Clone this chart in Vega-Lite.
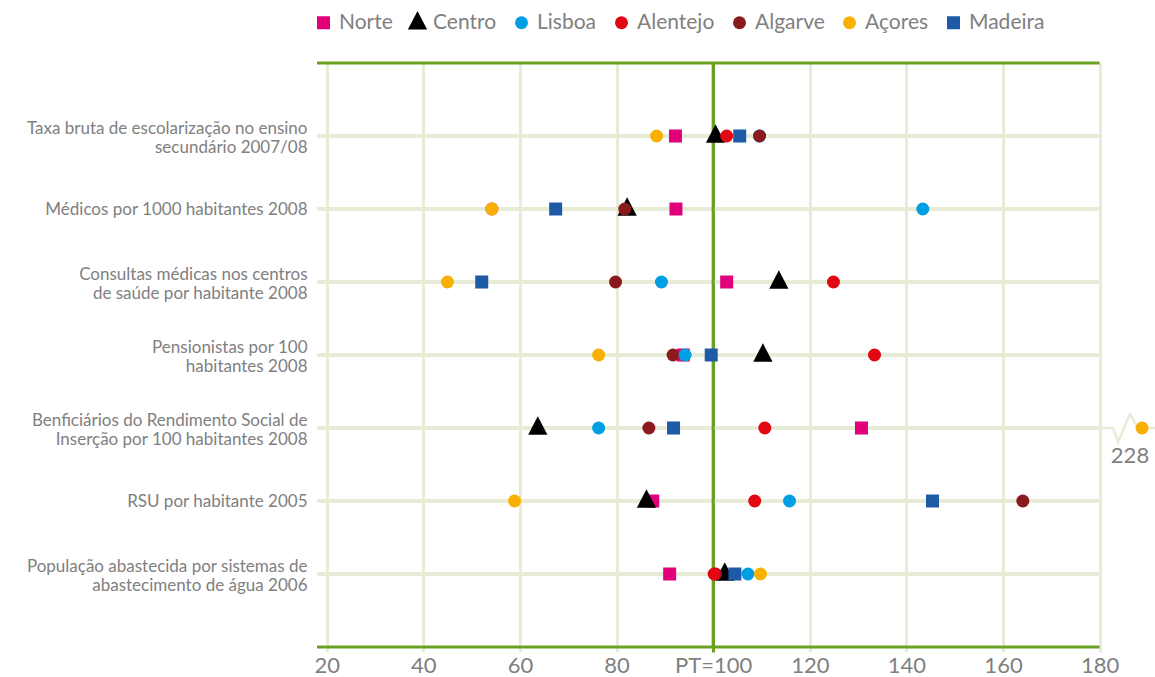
{
  "$schema": "https://vega.github.io/schema/vega-lite/v6.json",
  "width": 825,
  "height": 584,
  "autosize": {"type": "none"},
  "padding": {"left": 317, "top": 63, "right": 13, "bottom": 30},
  "background": "white",
  "config": {"view": {"stroke": null}, "font": "Lato"},
  "data": {"values": [
    {"indicador": "Taxa bruta de escolarização no ensino|secundário 2007/08", "regiao": "Norte", "valor": 92.2},
    {"indicador": "Taxa bruta de escolarização no ensino|secundário 2007/08", "regiao": "Centro", "valor": 100.5},
    {"indicador": "Taxa bruta de escolarização no ensino|secundário 2007/08", "regiao": "Lisboa", "valor": 109.6},
    {"indicador": "Taxa bruta de escolarização no ensino|secundário 2007/08", "regiao": "Alentejo", "valor": 102.8},
    {"indicador": "Taxa bruta de escolarização no ensino|secundário 2007/08", "regiao": "Algarve", "valor": 109.6},
    {"indicador": "Taxa bruta de escolarização no ensino|secundário 2007/08", "regiao": "Açores", "valor": 88.3},
    {"indicador": "Taxa bruta de escolarização no ensino|secundário 2007/08", "regiao": "Madeira", "valor": 105.5},
    {"indicador": "Médicos por 1000 habitantes 2008", "regiao": "Norte", "valor": 92.3},
    {"indicador": "Médicos por 1000 habitantes 2008", "regiao": "Centro", "valor": 82.2},
    {"indicador": "Médicos por 1000 habitantes 2008", "regiao": "Lisboa", "valor": 143.4},
    {"indicador": "Médicos por 1000 habitantes 2008", "regiao": "Alentejo", "valor": 54.2},
    {"indicador": "Médicos por 1000 habitantes 2008", "regiao": "Açores", "valor": 54.2},
    {"indicador": "Médicos por 1000 habitantes 2008", "regiao": "Algarve", "valor": 81.7},
    {"indicador": "Médicos por 1000 habitantes 2008", "regiao": "Madeira", "valor": 67.4},
    {"indicador": "Consultas médicas nos centros|de saúde por habitante 2008", "regiao": "Norte", "valor": 102.8},
    {"indicador": "Consultas médicas nos centros|de saúde por habitante 2008", "regiao": "Centro", "valor": 113.6},
    {"indicador": "Consultas médicas nos centros|de saúde por habitante 2008", "regiao": "Lisboa", "valor": 89.3},
    {"indicador": "Consultas médicas nos centros|de saúde por habitante 2008", "regiao": "Alentejo", "valor": 124.9},
    {"indicador": "Consultas médicas nos centros|de saúde por habitante 2008", "regiao": "Algarve", "valor": 79.8},
    {"indicador": "Consultas médicas nos centros|de saúde por habitante 2008", "regiao": "Açores", "valor": 45.0},
    {"indicador": "Consultas médicas nos centros|de saúde por habitante 2008", "regiao": "Madeira", "valor": 52.1},
    {"indicador": "Pensionistas por 100|habitantes 2008", "regiao": "Norte", "valor": 93.8},
    {"indicador": "Pensionistas por 100|habitantes 2008", "regiao": "Centro", "valor": 110.3},
    {"indicador": "Pensionistas por 100|habitantes 2008", "regiao": "Algarve", "valor": 91.7},
    {"indicador": "Pensionistas por 100|habitantes 2008", "regiao": "Lisboa", "valor": 94.2},
    {"indicador": "Pensionistas por 100|habitantes 2008", "regiao": "Alentejo", "valor": 133.4},
    {"indicador": "Pensionistas por 100|habitantes 2008", "regiao": "Açores", "valor": 76.3},
    {"indicador": "Pensionistas por 100|habitantes 2008", "regiao": "Madeira", "valor": 99.6},
    {"indicador": "Benficiários do Rendimento Social de|Inserção por 100 habitantes 2008", "regiao": "Norte", "valor": 130.7},
    {"indicador": "Benficiários do Rendimento Social de|Inserção por 100 habitantes 2008", "regiao": "Centro", "valor": 63.7},
    {"indicador": "Benficiários do Rendimento Social de|Inserção por 100 habitantes 2008", "regiao": "Lisboa", "valor": 76.3},
    {"indicador": "Benficiários do Rendimento Social de|Inserção por 100 habitantes 2008", "regiao": "Alentejo", "valor": 110.7},
    {"indicador": "Benficiários do Rendimento Social de|Inserção por 100 habitantes 2008", "regiao": "Algarve", "valor": 86.7},
    {"indicador": "Benficiários do Rendimento Social de|Inserção por 100 habitantes 2008", "regiao": "Açores", "valor": 228},
    {"indicador": "Benficiários do Rendimento Social de|Inserção por 100 habitantes 2008", "regiao": "Madeira", "valor": 91.8},
    {"indicador": "RSU por habitante 2005", "regiao": "Norte", "valor": 87.5},
    {"indicador": "RSU por habitante 2005", "regiao": "Centro", "valor": 86.2},
    {"indicador": "RSU por habitante 2005", "regiao": "Lisboa", "valor": 115.8},
    {"indicador": "RSU por habitante 2005", "regiao": "Alentejo", "valor": 108.6},
    {"indicador": "RSU por habitante 2005", "regiao": "Algarve", "valor": 164.1},
    {"indicador": "RSU por habitante 2005", "regiao": "Açores", "valor": 58.9},
    {"indicador": "RSU por habitante 2005", "regiao": "Madeira", "valor": 145.4},
    {"indicador": "População abastecida por sistemas de|abastecimento de água 2006", "regiao": "Norte", "valor": 91.0},
    {"indicador": "População abastecida por sistemas de|abastecimento de água 2006", "regiao": "Centro", "valor": 102.4},
    {"indicador": "População abastecida por sistemas de|abastecimento de água 2006", "regiao": "Lisboa", "valor": 107.2},
    {"indicador": "População abastecida por sistemas de|abastecimento de água 2006", "regiao": "Algarve", "valor": 100.5},
    {"indicador": "População abastecida por sistemas de|abastecimento de água 2006", "regiao": "Alentejo", "valor": 100.2},
    {"indicador": "População abastecida por sistemas de|abastecimento de água 2006", "regiao": "Açores", "valor": 109.8},
    {"indicador": "População abastecida por sistemas de|abastecimento de água 2006", "regiao": "Madeira", "valor": 104.5}
  ]},
  "layer": [
    {
      "mark": {"type": "rule", "stroke": "#e6ecd6", "strokeWidth": 3},
      "encoding": {
        "x": {"datum": 18, "type": "quantitative", "scale": {"domain": [18, 188.77], "clamp": true, "nice": false, "zero": false}, "title": null},
        "x2": {"datum": 180},
        "y": {"field": "indicador", "type": "nominal", "title": null,
              "scale": {"type": "point", "padding": 1, "domain": [
                "Taxa bruta de escolarização no ensino|secundário 2007/08",
                "Médicos por 1000 habitantes 2008",
                "Consultas médicas nos centros|de saúde por habitante 2008",
                "Pensionistas por 100|habitantes 2008",
                "Benficiários do Rendimento Social de|Inserção por 100 habitantes 2008",
                "RSU por habitante 2005",
                "População abastecida por sistemas de|abastecimento de água 2006"]}}
      }
    },
    {
      "data": {"values": [{}]},
      "mark": {"type": "rule", "stroke": "#6aa121", "strokeWidth": 3},
      "encoding": {
        "x": {"datum": 100, "type": "quantitative", "title": null}
      }
    },
    {
      "data": {"values": [{}]},
      "mark": {"type": "rule", "stroke": "#6aa121", "strokeWidth": 3},
      "encoding": {
        "x": {"datum": 18, "type": "quantitative", "title": null},
        "x2": {"datum": 180},
        "y": {"value": 0}
      }
    },
    {
      "data": {"values": [{}]},
      "mark": {"type": "rule", "stroke": "#6aa121", "strokeWidth": 3},
      "encoding": {
        "x": {"datum": 18, "type": "quantitative", "title": null},
        "x2": {"datum": 180},
        "y": {"value": "height"}
      }
    },
    {
      "transform": [{"filter": "datum.valor > 180"}],
      "mark": {"type": "point", "shape": "M-42,0L-29,0L-24,14L-12,-14L-4,0L14,0", "size": 4, "filled": false, "stroke": "#e6ecd6", "strokeWidth": 2.5, "opacity": 1, "strokeJoin": "miter"},
      "encoding": {
        "x": {"field": "valor", "type": "quantitative", "title": null},
        "y": {"field": "indicador", "type": "nominal", "title": null}
      }
    },
    {
      "mark": {"type": "point", "filled": true, "opacity": 1, "strokeWidth": 0, "size": 169},
      "encoding": {
        "x": {"field": "valor", "type": "quantitative", "title": null,
              "axis": {"values": [20, 40, 60, 80, 100, 120, 140, 160, 180], "domain": false, "grid": true,
                       "gridColor": {"condition": {"test": "datum.value === 100", "value": "#6aa121"}, "value": "#e6ecd6"},
                       "gridWidth": 3, "ticks": true, "tickSize": 5, "tickWidth": 3,
                       "tickColor": {"condition": {"test": "datum.value === 100", "value": "#6aa121"}, "value": "#e6ecd6"},
                       "labelFont": "Lato", "labelFontSize": 22, "labelColor": "#808080", "labelPadding": 3, "labelFlush": false,
                       "labelExpr": "datum.value === 100 ? 'PT=100' : datum.label"}},
        "y": {"field": "indicador", "type": "nominal", "title": null,
              "axis": {"domain": false, "ticks": false, "grid": false, "labelFont": "Lato", "labelFontSize": 17, "labelColor": "#808080",
                       "labelPadding": 10, "labelLineHeight": 19, "labelLimit": 400, "labelExpr": "split(datum.label, '|')",
                       "labelOffset": {"condition": {"test": "indexof(datum.value, '|') >= 0", "value": -8}, "value": 0}}},
        "color": {"field": "regiao", "type": "nominal",
                  "scale": {"domain": ["Norte", "Centro", "Lisboa", "Alentejo", "Algarve", "Açores", "Madeira"],
                            "range": ["#e2007a", "#000000", "#009fe3", "#e30613", "#8b1a1e", "#f9b000", "#1f5aa6"]},
                  "legend": {"orient": "none", "legendX": -4, "legendY": -51, "direction": "horizontal", "columns": 7, "title": null,
                             "labelFont": "Lato", "labelFontSize": 21, "labelColor": "#808080", "labelOffset": 5, "columnPadding": 14,
                             "symbolStrokeWidth": 0, "symbolOpacity": 1, "symbolSize": 169, "padding": 0}},
        "shape": {"field": "regiao", "type": "nominal",
                  "scale": {"domain": ["Norte", "Centro", "Lisboa", "Alentejo", "Algarve", "Açores", "Madeira"],
                            "range": ["M-1,-1L1,-1L1,1L-1,1Z", "M0,-1.8L1.48,1.03L-1.48,1.03Z", "circle", "circle", "circle", "circle", "M-1,-1L1,-1L1,1L-1,1Z"]}}
      }
    },
    {
      "transform": [{"filter": "datum.valor > 180"}],
      "mark": {"type": "text", "dx": -12, "dy": 28, "fontSize": 22, "font": "Lato", "color": "#808080"},
      "encoding": {
        "x": {"field": "valor", "type": "quantitative", "title": null},
        "y": {"field": "indicador", "type": "nominal", "title": null},
        "text": {"field": "valor", "type": "quantitative"}
      }
    }
  ]
}
